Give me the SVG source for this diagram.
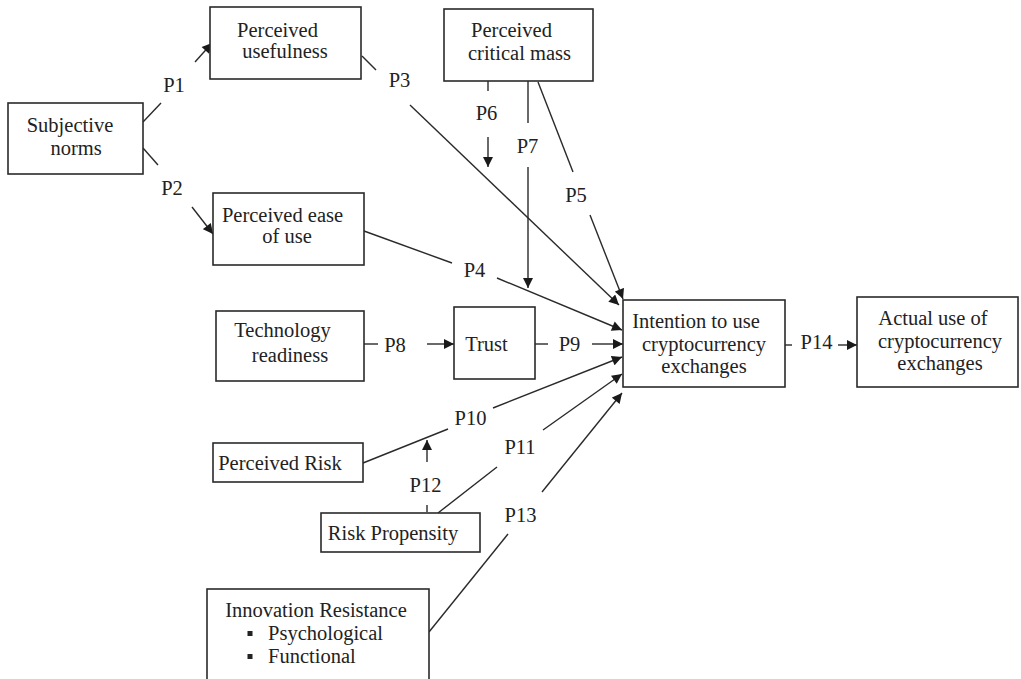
<svg xmlns="http://www.w3.org/2000/svg" width="1021" height="679" viewBox="0 0 1021 679">
<defs>
<marker id="ah" viewBox="0 0 10 10" refX="10" refY="5" markerWidth="11" markerHeight="10" markerUnits="userSpaceOnUse" orient="auto">
<path d="M0,0 L10,5 L0,10 Z" fill="#1a1a1a"/>
</marker>
<style>
.box{fill:#fff;stroke:#2a2a2a;stroke-width:1.6}
.t{font-family:"Liberation Serif","Times New Roman",serif;font-size:20.5px;fill:#222;text-anchor:middle}
.l{font-family:"Liberation Serif","Times New Roman",serif;font-size:20.5px;fill:#222;text-anchor:middle}
.c{stroke:#2a2a2a;stroke-width:1.4;fill:none}
.a{stroke:#2a2a2a;stroke-width:1.4;fill:none;marker-end:url(#ah)}
</style>
</defs>
<rect width="1021" height="679" fill="#fff"/>
<g id="connectors">
<line class="c" x1="143" y1="122" x2="161" y2="103"/>
<line class="a" x1="195" y1="62" x2="212" y2="43"/>
<line class="c" x1="143" y1="148" x2="158" y2="165"/>
<line class="a" x1="192" y1="207" x2="213" y2="234"/>
<line class="c" x1="362" y1="56" x2="376" y2="70"/>
<line class="a" x1="410" y1="105" x2="619" y2="305"/>
<line class="c" x1="538" y1="82" x2="573" y2="172"/>
<line class="a" x1="590" y1="215" x2="623" y2="299"/>
<line class="c" x1="488" y1="81" x2="488" y2="91"/>
<line class="a" x1="488" y1="137" x2="488" y2="167"/>
<line class="c" x1="528" y1="81" x2="528" y2="123"/>
<line class="a" x1="528" y1="167" x2="528" y2="288"/>
<line class="c" x1="364" y1="231" x2="452" y2="263"/>
<line class="a" x1="497" y1="278" x2="622" y2="330"/>
<line class="c" x1="364" y1="344" x2="378" y2="344"/>
<line class="a" x1="427" y1="344" x2="454" y2="344"/>
<line class="c" x1="535" y1="344" x2="548" y2="344"/>
<line class="a" x1="592" y1="344" x2="623" y2="344"/>
<line class="c" x1="363" y1="463" x2="448" y2="429"/>
<line class="a" x1="493" y1="408" x2="622" y2="357"/>
<line class="c" x1="427" y1="505" x2="427" y2="512"/>
<line class="a" x1="427" y1="462" x2="427" y2="440"/>
<line class="c" x1="438" y1="513" x2="497" y2="467"/>
<line class="a" x1="543" y1="430" x2="622" y2="374"/>
<line class="c" x1="429" y1="632" x2="508" y2="534"/>
<line class="a" x1="542" y1="492" x2="622" y2="393"/>
<line class="c" x1="785" y1="345" x2="792" y2="345"/>
<line class="a" x1="838" y1="345" x2="857" y2="345"/>
</g>
<g id="labels">
<text class="l" x="174" y="92">P1</text>
<text class="l" x="172" y="195">P2</text>
<text class="l" x="399.5" y="87">P3</text>
<text class="l" x="474.5" y="277">P4</text>
<text class="l" x="576" y="202">P5</text>
<text class="l" x="486.5" y="120">P6</text>
<text class="l" x="527.5" y="153">P7</text>
<text class="l" x="395" y="352">P8</text>
<text class="l" x="569.5" y="351">P9</text>
<text class="l" x="470.5" y="425">P10</text>
<text class="l" x="520" y="454">P11</text>
<text class="l" x="425.5" y="492">P12</text>
<text class="l" x="520.5" y="522">P13</text>
<text class="l" x="816.5" y="349">P14</text>
</g>
<g id="subjective-norms">
<rect class="box" x="8" y="103" width="135" height="71"/>
<text class="t" x="70" y="132">Subjective</text>
<text class="t" x="76" y="155">norms</text>
</g>
<g id="perceived-usefulness">
<rect class="box" x="210" y="7" width="151" height="72"/>
<text class="t" x="277.5" y="37">Perceived</text>
<text class="t" x="285" y="58">usefulness</text>
</g>
<g id="perceived-ease">
<rect class="box" x="213" y="193" width="151" height="72"/>
<text class="t" x="282.5" y="222">Perceived ease</text>
<text class="t" x="287" y="243">of use</text>
</g>
<g id="perceived-critical-mass">
<rect class="box" x="444" y="9" width="149" height="72"/>
<text class="t" x="511.5" y="37">Perceived</text>
<text class="t" x="519.5" y="60">critical mass</text>
</g>
<g id="technology-readiness">
<rect class="box" x="216" y="311" width="148" height="70"/>
<text class="t" x="282.5" y="337">Technology</text>
<text class="t" x="290" y="362">readiness</text>
</g>
<g id="trust">
<rect class="box" x="454" y="307" width="81" height="72"/>
<text class="t" x="486.5" y="351">Trust</text>
</g>
<g id="intention">
<rect class="box" x="623" y="300" width="162" height="87"/>
<text class="t" x="696" y="328">Intention to use</text>
<text class="t" x="704" y="351">cryptocurrency</text>
<text class="t" x="704" y="373">exchanges</text>
</g>
<g id="actual-use">
<rect class="box" x="857" y="297" width="161" height="90"/>
<text class="t" x="933" y="325">Actual use of</text>
<text class="t" x="940" y="348">cryptocurrency</text>
<text class="t" x="940" y="370">exchanges</text>
</g>
<g id="perceived-risk">
<rect class="box" x="213" y="443" width="150" height="39"/>
<text class="t" x="280" y="470">Perceived Risk</text>
</g>
<g id="risk-propensity">
<rect class="box" x="321" y="513" width="159" height="39"/>
<text class="t" x="393" y="540">Risk Propensity</text>
</g>
<g id="innovation-resistance">
<rect class="box" x="207" y="589" width="222" height="100"/>
<text class="t" x="316" y="617">Innovation Resistance</text>
<rect x="247.5" y="631" width="5" height="5" fill="#222"/>
<text class="t" x="268" y="640" style="text-anchor:start">Psychological</text>
<rect x="247.5" y="654" width="5" height="5" fill="#222"/>
<text class="t" x="268" y="663" style="text-anchor:start">Functional</text>
</g>
</svg>
